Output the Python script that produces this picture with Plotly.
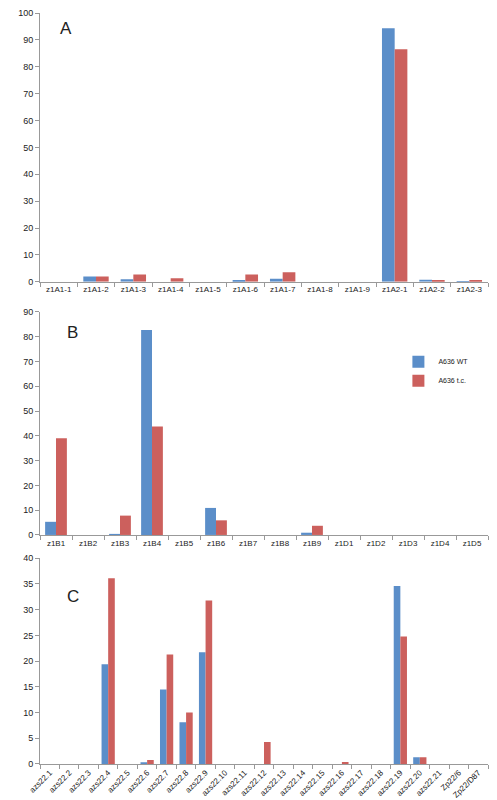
import plotly.graph_objects as go
from plotly.subplots import make_subplots

cats_a = ["z1A1-1","z1A1-2","z1A1-3","z1A1-4","z1A1-5","z1A1-6","z1A1-7","z1A1-8","z1A1-9","z1A2-1","z1A2-2","z1A2-3"]
wt_a = [0,2,1,0,0,0.5,1.2,0,0,94.3,0.8,0.3]
tc_a = [0,2,2.7,1.3,0,2.7,3.6,0,0,86.5,0.7,0.7]

cats_b = ["z1B1","z1B2","z1B3","z1B4","z1B5","z1B6","z1B7","z1B8","z1B9","z1D1","z1D2","z1D3","z1D4","z1D5"]
wt_b = [5.3,0,0.4,82.7,0,10.9,0,0,0.9,0,0,0,0,0]
tc_b = [39,0,7.8,43.8,0,5.9,0,0,3.7,0,0,0,0,0]

cats_c = ["azs22.1","azs22.2","azs22.3","azs22.4","azs22.5","azs22.6","azs22.7","azs22.8","azs22.9","azs22.10","azs22.11","azs22.12","azs22.13","azs22.14","azs22.15","azs22.16","azs22.17","azs22.18","azs22.19","azs22.20","azs22.21","Zp22/6","Zp22/D87"]
wt_c = [0,0,0,19.4,0,0.3,14.5,8.1,21.7,0,0,0,0,0,0,0,0,0,34.6,1.3,0,0,0]
tc_c = [0,0,0,36.1,0,0.8,21.3,10.0,31.8,0,0,4.3,0,0,0,0.4,0,0,24.8,1.3,0,0,0]

BLUE = "#5b8ec9"
RED = "#cc605d"

fig = make_subplots(rows=3, cols=1)
for i, (c, w, t) in enumerate([(cats_a, wt_a, tc_a), (cats_b, wt_b, tc_b), (cats_c, wt_c, tc_c)], start=1):
    fig.add_trace(go.Bar(x=c, y=w, name="A636 WT", marker_color=BLUE, showlegend=(i == 2)), row=i, col=1)
    fig.add_trace(go.Bar(x=c, y=t, name="A636 t.c.", marker_color=RED, showlegend=(i == 2)), row=i, col=1)

ax = dict(showgrid=False, showline=True, linecolor="#999", ticks="outside", tickcolor="#999", ticklen=4,
          tickfont=dict(size=9, color="#222"), zeroline=False)
axx = dict(ax, tickfont=dict(size=8, color="#222"))
fig.update_layout(
    width=497, height=800, template="none", barmode="group", bargap=0.32, bargroupgap=0,
    margin=dict(l=32, r=17, t=5, b=44),
    font=dict(family="Liberation Sans, Arial", color="#222"),
    plot_bgcolor="white", paper_bgcolor="white",
    legend=dict(x=0.8, y=0.555, xanchor="left", yanchor="top", font=dict(size=7), bgcolor="rgba(0,0,0,0)",
                itemwidth=30, tracegroupgap=0),
    yaxis=dict(domain=[0.642, 1.0], range=[0, 100], dtick=10, **ax),
    yaxis2=dict(domain=[0.305, 0.602], range=[0, 90], dtick=10, **ax),
    yaxis3=dict(domain=[0, 0.274], range=[0, 40], dtick=5, **ax),
    xaxis=dict(tickson="boundaries", tickangle=0, **axx),
    xaxis2=dict(tickson="boundaries", tickangle=0, **axx),
    xaxis3=dict(tickson="boundaries", tickangle=-45, **axx),
)
fig.add_annotation(text="A", x=0.04, y=0.995, xref="paper", yref="paper", showarrow=False, font=dict(size=17), xanchor="left", yanchor="top")
fig.add_annotation(text="B", x=0.055, y=0.59, xref="paper", yref="paper", showarrow=False, font=dict(size=17), xanchor="left", yanchor="top")
fig.add_annotation(text="C", x=0.055, y=0.238, xref="paper", yref="paper", showarrow=False, font=dict(size=17), xanchor="left", yanchor="top")
fig.write_html("out.html")
